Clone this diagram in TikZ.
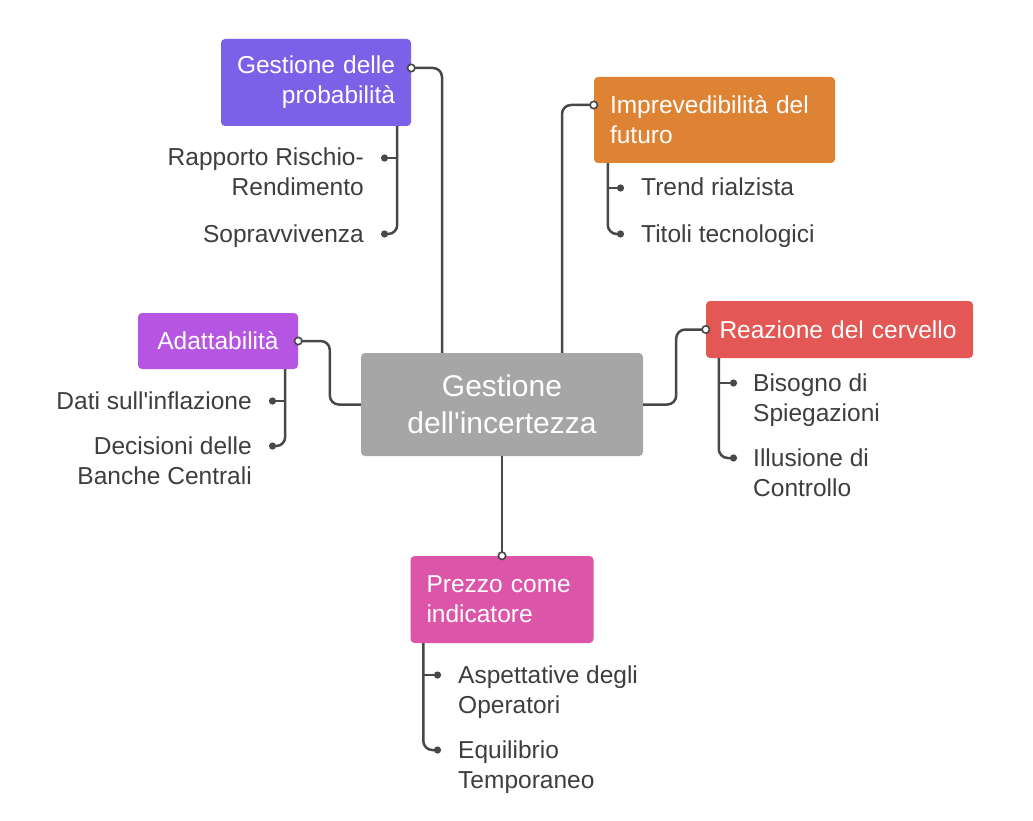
\documentclass[tikz,border=0pt]{standalone}
\usepackage{fontspec}
\setmainfont{Liberation Sans}[Ligatures=TeXOff]
\usetikzlibrary{arrows.meta, positioning}

\definecolor{probc}{RGB}{123,96,232}
\definecolor{futc}{RGB}{222,131,52}
\definecolor{adapc}{RGB}{181,85,226}
\definecolor{brainc}{RGB}{227,88,84}
\definecolor{pricec}{RGB}{220,85,168}
\definecolor{cenc}{RGB}{166,166,166}
\definecolor{lnk}{RGB}{72,72,72}
\definecolor{txt}{RGB}{62,62,62}

\begin{document}
\begin{tikzpicture}[x=1pt, y=-1pt,
  box/.style={rectangle, rounded corners=4pt, text=white, inner xsep=16pt, inner ysep=0pt,
    font=\fontsize{24.5}{30}\selectfont},
  leaf/.style={inner sep=0pt, text=txt, font=\fontsize{24.5}{30}\selectfont},
  link/.style={draw=lnk, line width=2.5pt, rounded corners=9pt},
  hole/.style={-{Circle[length=9pt, fill=white, line width=1.6pt]}, shorten >=-4.5pt},
  dot/.style={-{Circle[length=7pt]}}]
  \fill[white] (0,0) rectangle (1033,821);
  \useasboundingbox (0,0) rectangle (1033,821);

  \node[box, fill=cenc, text width=250pt, minimum height=103pt, align=center,
    font=\fontsize{30}{37}\selectfont] (cen) at (502,404.5) {Gestione\\dell'incertezza};
  \node[box, fill=probc, text width=158pt, minimum height=87pt, align=right] (prob) at (316,82.5)
    {Gestione delle\\probabilità};
  \node[box, fill=futc, text width=209pt, minimum height=86pt, align=left] (fut) at (714.5,120)
    {Imprevedibilità del\\futuro};
  \node[box, fill=adapc, text width=128pt, minimum height=56pt, align=center] (adapt) at (218,341)
    {Adattabilità};
  \node[box, fill=brainc, text width=240pt, inner xsep=13.5pt, minimum height=57pt, align=left]
    (brain) at (839.5,329.5) {Reazione del cervello};
  \node[box, fill=pricec, text width=151pt, minimum height=87pt, align=left] (price) at (502,599.5)
    {Prezzo come\\indicatore};

  \node[leaf, align=right, anchor=base east] (rr) at (364,196) {Rapporto Rischio-\\Rendimento};
  \node[leaf, anchor=base east] (sv) at (364,242) {Sopravvivenza};
  \node[leaf, anchor=base west] (tr) at (641,196) {Trend rialzista};
  \node[leaf, anchor=base west] (tt) at (641,242) {Titoli tecnologici};
  \node[leaf, anchor=base east] (di) at (252,409) {Dati sull'inflazione};
  \node[leaf, align=right, anchor=base east] (dbc) at (252,484) {Decisioni delle\\Banche Centrali};
  \node[leaf, align=left, anchor=base west] (bs) at (753,421) {Bisogno di\\Spiegazioni};
  \node[leaf, align=left, anchor=base west] (ic) at (753,496) {Illusione di\\Controllo};
  \node[leaf, align=left, anchor=base west] (ao) at (458,713) {Aspettative degli\\Operatori};
  \node[leaf, align=left, anchor=base west] (et) at (458,788) {Equilibrio\\Temporaneo};

  \draw[link, hole] ([xshift=-60pt]cen.north) |- ([yshift=14.5pt]prob.east);
  \draw[link, hole] ([xshift=60pt]cen.north) |- ([yshift=15pt]fut.west);
  \draw[link, hole] (cen.west) -- ++(-31,0) |- (adapt.east);
  \draw[link, hole] (cen.east) -- ++(33,0) |- (brain.west);
  \draw[link, hole] (cen.south) -- (price.north);

  \coordinate (pt) at ([xshift=-14pt]prob.south east);
  \coordinate (e1) at ([xshift=17pt, yshift=38pt]rr.base east);
  \coordinate (e2) at ([xshift=17pt, yshift=8pt]sv.base east);
  \draw[link, dot] (pt |- e1) -- (e1);
  \draw[link, dot] (pt) |- (e2);

  \coordinate (ft) at ([xshift=14pt]fut.south west);
  \coordinate (e3) at ([xshift=-17pt, yshift=8pt]tr.base west);
  \coordinate (e4) at ([xshift=-17pt, yshift=8pt]tt.base west);
  \draw[link, dot] (ft |- e3) -- (e3);
  \draw[link, dot] (ft) |- (e4);

  \coordinate (at) at ([xshift=-13pt]adapt.south east);
  \coordinate (e5) at ([xshift=17pt, yshift=8pt]di.base east);
  \coordinate (e6) at ([xshift=17pt, yshift=38pt]dbc.base east);
  \draw[link, dot] (at |- e5) -- (e5);
  \draw[link, dot] (at) |- (e6);

  \coordinate (bt) at ([xshift=13pt]brain.south west);
  \coordinate (e7) at ([xshift=-16pt, yshift=38pt]bs.base west);
  \coordinate (e8) at ([xshift=-16pt, yshift=38pt]ic.base west);
  \draw[link, dot] (bt |- e7) -- (e7);
  \draw[link, dot] (bt) |- (e8);

  \coordinate (pr) at ([xshift=13pt]price.south west);
  \coordinate (e9) at ([xshift=-17pt, yshift=38pt]ao.base west);
  \coordinate (e10) at ([xshift=-17pt, yshift=38pt]et.base west);
  \draw[link, dot] (pr |- e9) -- (e9);
  \draw[link, dot] (pr) |- (e10);
\end{tikzpicture}
\end{document}
